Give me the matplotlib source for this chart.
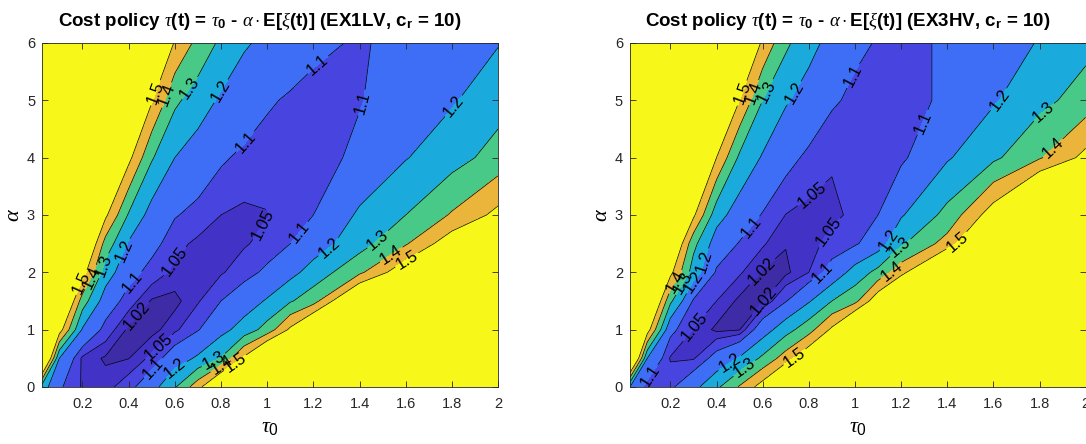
import numpy as np
import matplotlib
matplotlib.use("Agg")
import matplotlib.pyplot as plt
from matplotlib.ticker import FormatStrFormatter

plt.rcParams['font.family'] = ['Liberation Sans', 'DejaVu Sans']
plt.rcParams['mathtext.fontset'] = 'custom'
plt.rcParams['mathtext.rm'] = 'Liberation Sans'
plt.rcParams['mathtext.it'] = 'Liberation Serif:italic'
plt.rcParams['mathtext.bf'] = 'Liberation Sans:bold'

# grid of the cost ratio (policy cost / optimal cost)
tau0 = [0.025, 0.1, 0.2, 0.3, 0.4, 0.5, 0.6, 0.7, 0.8, 0.9, 1.0, 1.1, 1.2, 1.4, 1.6, 1.8, 2.0]
alpha = [0, 0.5, 1, 1.5, 2, 2.5, 3, 4, 5, 6]

# EX1LV, one row per alpha value
cost_ex1lv = [
    [1.25, 1.11, 1.045, 1.035, 1.075, 1.16, 1.29, 1.46, 1.70, 1.95, 2.2, 2.4, 2.6, 3.0, 3.4, 3.8, 4.2],
    [1.80, 1.20, 1.04, 1.015, 1.019, 1.06, 1.15, 1.215, 1.305, 1.52, 1.75, 1.95, 2.15, 2.5, 2.9, 3.3, 3.7],
    [2.00, 1.55, 1.19, 1.075, 1.012, 1.008, 1.04, 1.095, 1.17, 1.24, 1.34, 1.52, 1.70, 2.0, 2.4, 2.8, 3.2],
    [2.20, 1.75, 1.35, 1.15, 1.07, 1.016, 1.01, 1.045, 1.10, 1.15, 1.21, 1.29, 1.36, 1.70, 2.0, 2.3, 2.6],
    [2.30, 1.95, 1.55, 1.25, 1.13, 1.075, 1.04, 1.035, 1.045, 1.075, 1.115, 1.17, 1.24, 1.38, 1.58, 1.80, 2.0],
    [2.40, 2.10, 1.70, 1.36, 1.19, 1.125, 1.065, 1.04, 1.04, 1.045, 1.065, 1.10, 1.15, 1.26, 1.39, 1.57, 1.75],
    [2.50, 2.20, 1.85, 1.52, 1.29, 1.16, 1.105, 1.08, 1.05, 1.04, 1.048, 1.07, 1.10, 1.215, 1.30, 1.41, 1.53],
    [2.70, 2.40, 2.05, 1.80, 1.53, 1.31, 1.20, 1.15, 1.11, 1.085, 1.07, 1.065, 1.065, 1.12, 1.195, 1.26, 1.34],
    [2.90, 2.60, 2.30, 2.00, 1.75, 1.51, 1.32, 1.25, 1.185, 1.15, 1.11, 1.09, 1.075, 1.095, 1.15, 1.19, 1.26],
    [3.00, 2.80, 2.50, 2.20, 1.95, 1.70, 1.49, 1.37, 1.28, 1.21, 1.18, 1.15, 1.12, 1.09, 1.13, 1.16, 1.195],
]

# EX3HV
cost_ex3hv = [
    [1.20, 1.07, 1.085, 1.17, 1.28, 1.41, 1.55, 1.75, 2.0, 2.2, 2.4, 2.6, 2.8, 3.2, 3.6, 4.0, 4.4],
    [1.80, 1.20, 1.045, 1.045, 1.13, 1.21, 1.32, 1.45, 1.60, 1.80, 2.0, 2.2, 2.4, 2.8, 3.2, 3.6, 4.0],
    [2.00, 1.55, 1.12, 1.048, 1.012, 1.018, 1.15, 1.26, 1.36, 1.52, 1.75, 2.0, 2.2, 2.6, 3.0, 3.4, 3.8],
    [2.20, 1.75, 1.32, 1.09, 1.05, 1.012, 1.018, 1.095, 1.19, 1.30, 1.37, 1.58, 1.80, 2.1, 2.4, 2.7, 3.0],
    [2.30, 1.90, 1.53, 1.25, 1.09, 1.055, 1.017, 1.012, 1.05, 1.13, 1.24, 1.33, 1.46, 1.80, 2.1, 2.4, 2.7],
    [2.40, 2.05, 1.68, 1.33, 1.15, 1.095, 1.055, 1.022, 1.035, 1.065, 1.09, 1.15, 1.285, 1.44, 1.75, 2.05, 2.35],
    [2.50, 2.20, 1.85, 1.52, 1.24, 1.15, 1.095, 1.049, 1.035, 1.04, 1.06, 1.10, 1.19, 1.33, 1.56, 1.85, 2.1],
    [2.70, 2.40, 2.05, 1.78, 1.50, 1.28, 1.19, 1.125, 1.085, 1.055, 1.051, 1.06, 1.085, 1.19, 1.28, 1.39, 1.53],
    [2.90, 2.60, 2.30, 2.00, 1.75, 1.50, 1.30, 1.21, 1.16, 1.11, 1.085, 1.075, 1.07, 1.115, 1.19, 1.27, 1.345],
    [3.00, 2.80, 2.50, 2.20, 1.95, 1.70, 1.48, 1.32, 1.23, 1.17, 1.115, 1.095, 1.08, 1.11, 1.16, 1.205, 1.27],
]

line_levels = [1.02, 1.05, 1.1, 1.2, 1.3, 1.4, 1.5]
fill_levels = [0.0] + line_levels + [10.0]
band_colors = ['#3d2ca6', '#4233c6', '#4744df', '#3f6ef6', '#1baadc',
               '#48c987', '#ebb43a', '#f8f71a']

# where the inline contour labels go
spots_ex1lv = [(0.522, 5.12), (0.587, 5.06), (0.688, 5.15), (0.804, 5.15), (1.216, 5.64),
               (1.425, 4.94), (1.823, 4.85), (0.898, 4.30), (0.999, 2.79), (1.129, 2.73),
               (1.273, 2.41), (1.476, 2.59), (1.534, 2.33), (1.606, 2.21), (0.594, 2.21),
               (0.428, 1.80), (0.406, 2.33), (0.313, 2.09), (0.248, 1.89), (0.211, 1.80),
               (0.443, 1.22), (0.529, 0.70), (0.493, 0.38), (0.602, 0.32), (0.768, 0.47),
               (0.811, 0.35), (0.869, 0.38)]
spots_ex3hv = [(0.515, 5.12), (0.573, 5.12), (0.638, 5.12), (0.753, 5.09), (0.999, 5.41),
               (1.310, 4.59), (1.642, 4.97), (1.823, 4.77), (1.852, 4.19), (0.804, 3.40),
               (0.551, 2.79), (0.898, 2.67), (1.151, 2.56), (1.208, 2.38), (1.160, 2.02),
               (1.454, 2.50), (0.211, 1.86), (0.233, 1.86), (0.276, 1.89), (0.356, 2.18),
               (0.594, 2.03), (0.594, 1.54), (0.869, 1.95), (0.305, 1.05), (0.464, 0.38),
               (0.522, 0.32), (0.739, 0.52), (0.161, 0.06)]

fig = plt.figure(figsize=(10.86, 4.44), dpi=100)
ax1 = fig.add_axes([0.0387, 0.1284, 0.4199, 0.7748])
ax2 = fig.add_axes([0.5801, 0.1284, 0.4196, 0.7748])

panels = [(ax1, cost_ex1lv, spots_ex1lv, 'EX1LV'),
          (ax2, cost_ex3hv, spots_ex3hv, 'EX3HV')]

for ax, cost, spots, name in panels:
    Z = np.array(cost)
    ax.contourf(tau0, alpha, Z, levels=fill_levels, colors=band_colors)
    cs = ax.contour(tau0, alpha, Z, levels=line_levels, colors='k', linewidths=0.5)
    ax.clabel(cs, fmt='%g', manual=spots, inline=True, fontsize=12, inline_spacing=2)

    ax.set_xlim(0.025, 2)
    ax.set_ylim(0, 6)
    ax.set_xticks([0.2, 0.4, 0.6, 0.8, 1, 1.2, 1.4, 1.6, 1.8, 2])
    ax.set_yticks([0, 1, 2, 3, 4, 5, 6])
    ax.xaxis.set_major_formatter(FormatStrFormatter('%g'))
    ax.tick_params(direction='in', top=True, right=True, length=4, width=0.6,
                   colors='#262626', labelsize=10.5)
    ax.tick_params(axis='x', pad=7)
    ax.tick_params(axis='y', pad=5)
    for s in ax.spines.values():
        s.set_color('#262626')
        s.set_linewidth(0.6)

    ax.set_xlabel(r'$\tau_0$', fontsize=16, labelpad=4)
    ax.set_ylabel(r'$\alpha$', fontsize=16, labelpad=2)
    ax.set_title(r'Cost policy $\tau$(t) = $\tau_\mathbf{0}$ - $\alpha\cdot$E[$\xi$(t)] (' + name
                 + r', c$_\mathbf{r}$ = 10)', fontsize=13.5, fontweight='bold', pad=12)
    ax.title.set_x(0.478)

fig.savefig('out.png', dpi=100)
